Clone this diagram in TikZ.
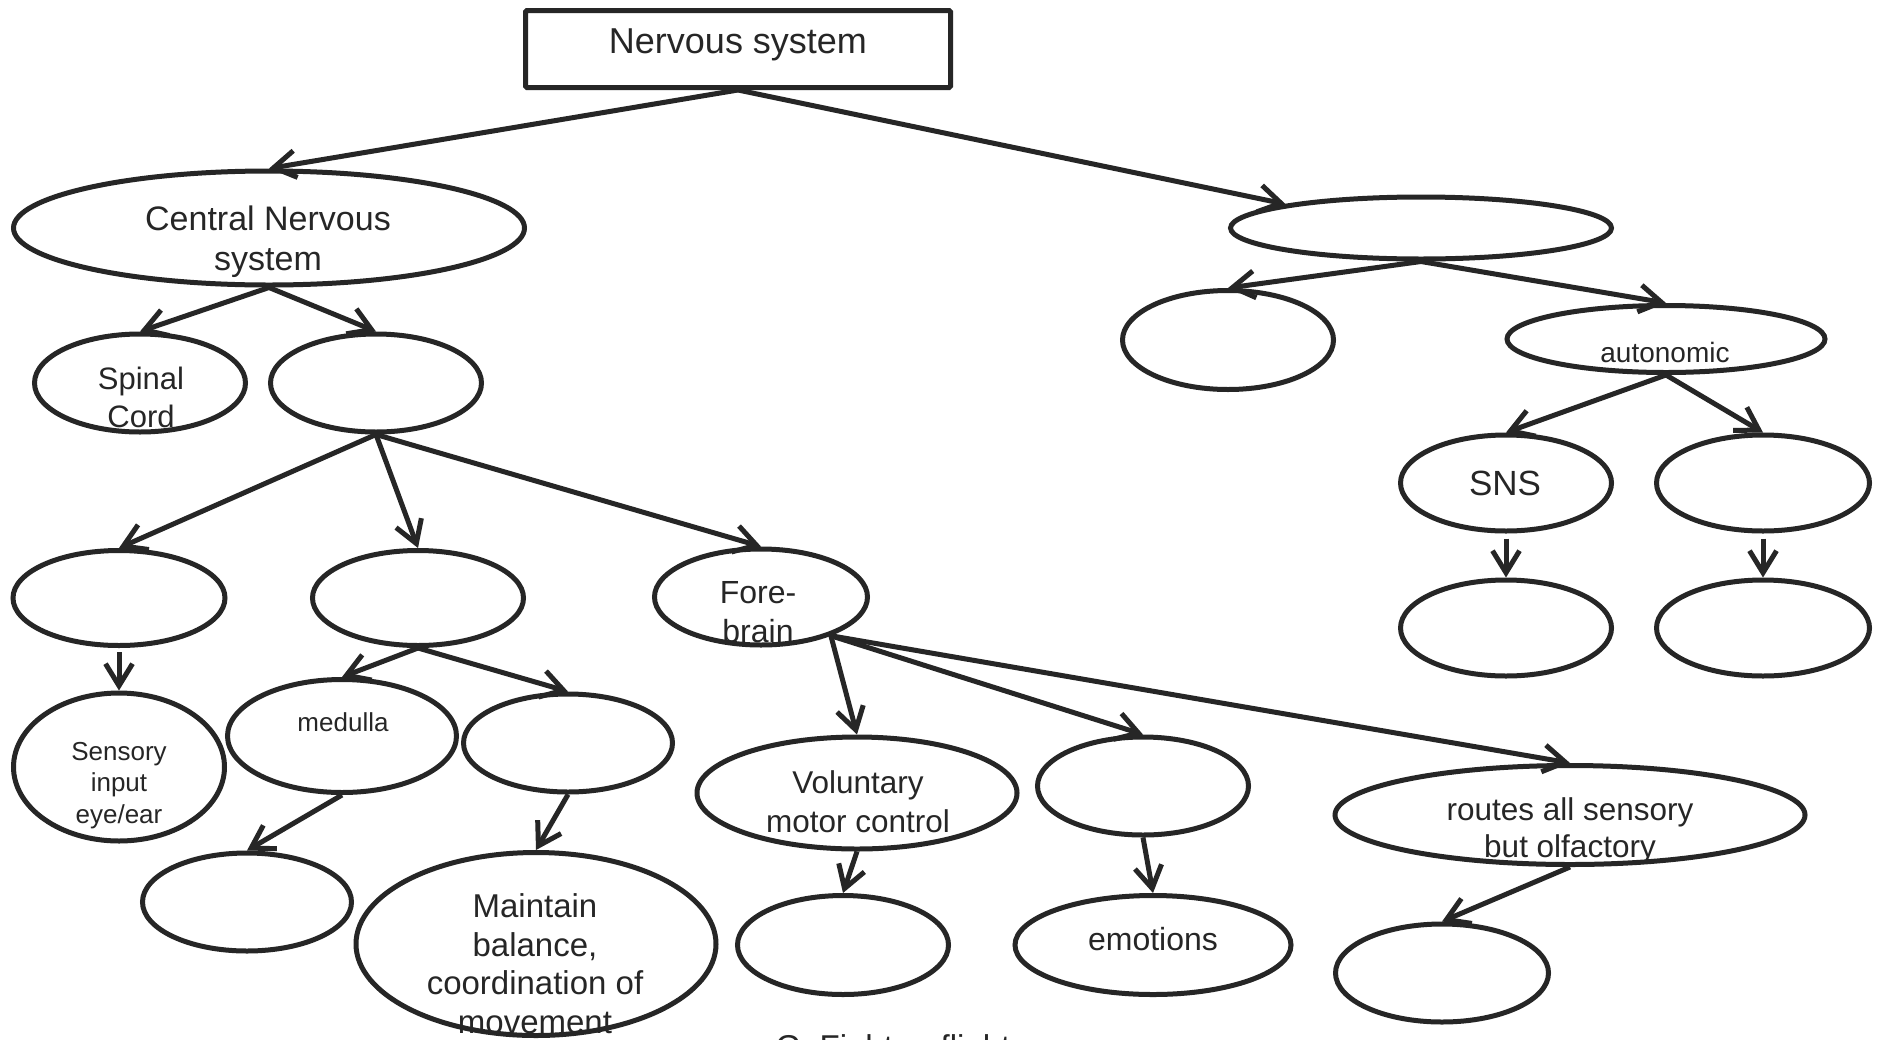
\documentclass[tikz,border=0pt]{standalone}
\usepackage{fontspec}
\setmainfont{Liberation Sans}
\usetikzlibrary{shapes.geometric,arrows.meta}
\definecolor{ink}{RGB}{38,38,38}
\newcommand{\fs}[2]{\fontsize{#1pt}{#2pt}\selectfont}
\begin{document}
\begin{tikzpicture}[x=1pt,y=-1pt,
  ell/.style 2 args={ellipse,draw=ink,line width=5pt,inner sep=0pt,
    minimum width=#1pt,minimum height=#2pt},
  box/.style={rectangle,draw=ink,line width=5pt,inner sep=0pt,
    minimum width=425pt,minimum height=77pt,rounded corners=1.5pt},
  arr/.style={draw=ink,line width=5pt,line join=round,
    -{Straight Barb[length=22pt,width=27pt]}},
  txt/.style={text=ink,anchor=base,align=center,inner sep=0pt}]
\useasboundingbox (0,0) rectangle (1879,1039);
\fill[white] (0,0) rectangle (1879,1039);

% shapes
\node[box] (title) at (738,49) {};
\node[ell={511}{114}] (cns) at (269,228) {};
\node[ell={211}{98}] (spinal) at (140,383) {};
\node[ell={211}{98}] (brain) at (376,383) {};
\node[ell={381}{62}] (pns) at (1421,228) {};
\node[ell={211}{99}] (som) at (1228,340) {};
\node[ell={318}{67}] (aut) at (1666,339) {};
\node[ell={211}{96}] (sns) at (1506,483) {};
\node[ell={213}{96}] (psns) at (1763,483) {};
\node[ell={211}{96}] (snsc) at (1506,628) {};
\node[ell={213}{96}] (psnsc) at (1763,628) {};
\node[ell={212}{95}] (hb) at (119,598) {};
\node[ell={211}{95}] (mid) at (418,598) {};
\node[ell={213}{96}] (fb) at (761,597) {};
\node[ell={211}{148}] (sens) at (119,767) {};
\node[ell={229}{113}] (med) at (342,736) {};
\node[ell={209}{98}] (cer) at (568,743) {};
\node[ell={209}{98}] (pons) at (247,902) {};
\node[ell={360}{183}] (maint) at (536,944) {};
\node[ell={320}{112}] (vol) at (857,793) {};
\node[ell={211}{98}] (limb) at (1143,786) {};
\node[ell={211}{99}] (bvol) at (843,945) {};
\node[ell={276}{99}] (emo) at (1153,945) {};
\node[ell={470}{99}] (routes) at (1570,815) {};
\node[ell={213}{98}] (broutes) at (1442,973) {};

% connectors
\draw[arr] (title.south) -- (cns.north);
\draw[arr] (title.south) -- (pns.170);
\draw[arr] (cns.south) -- (spinal.north);
\draw[arr] (cns.south) -- (brain.north);
\draw[arr] (brain.south) -- (hb.north);
\draw[arr] (brain.south) -- (mid.north);
\draw[arr] (brain.south) -- (fb.north);
\draw[arr,shorten <=4pt] (hb.south) -- (sens.north);
\draw[arr] (mid.south) -- (med.north);
\draw[arr] (mid.south) -- (cer.north);
\draw[arr] (med.south) -- (pons.north);
\draw[arr] (cer.south) -- (maint.north);
\draw[arr] (fb.-29) -- (vol.north);
\draw[arr] (fb.-29) -- (limb.north);
\draw[arr] (fb.-29) -- (routes.north);
\draw[arr] (vol.south) -- (bvol.north);
\draw[arr] (limb.south) -- (emo.north);
\draw[arr] (routes.south) -- (broutes.north);
\draw[arr] (pns.south) -- (som.north);
\draw[arr] (pns.south) -- (aut.north);
\draw[arr] (aut.south) -- (sns.north);
\draw[arr] (aut.south) -- (psns.north);
\draw[arr,shorten <=5pt] (sns.south) -- (snsc.north);
\draw[arr,shorten <=5pt] (psns.south) -- (psnsc.north);

% texts (anchor base = baseline of the last line)
\node[txt,font=\fs{36}{40}] (t-title) at (738,53) {Nervous system};
\node[txt,font=\fs{34}{40}] (t-cns) at (268,270) {Central Nervous\\system};
\node[txt,font=\fs{31}{38}] (t-spinal) at (141,427) {Spinal\\Cord};
\node[txt,font=\fs{28}{32}] (t-aut) at (1665,362) {autonomic};
\node[txt,font=\fs{35}{40}] (t-sns) at (1505,495) {SNS};
\node[txt,font=\fs{32}{39}] (t-fb) at (758,642) {Fore-\\brain};
\node[txt,font=\fs{26}{31.5}] (t-sens) at (119,823) {Sensory\\input\\eye/ear};
\node[txt,font=\fs{26}{32}] (t-med) at (343,731) {medulla};
\node[txt,font=\fs{33}{38.5}] (t-maint) at (535,1033) {Maintain\\balance,\\coordination of\\movement};
\node[txt,font=\fs{31.5}{39}] (t-vol) at (858,832) {Voluntary\\motor control};
\node[txt,font=\fs{32}{38}] (t-emo) at (1153,950) {emotions};
\node[txt,font=\fs{31.5}{37}] (t-routes) at (1570,857) {routes all sensory\\but olfactory};
\node[txt,font=\fs{33}{38}] (t-g) at (893,1058) {G: Fight or flight};
\end{tikzpicture}
\end{document}
